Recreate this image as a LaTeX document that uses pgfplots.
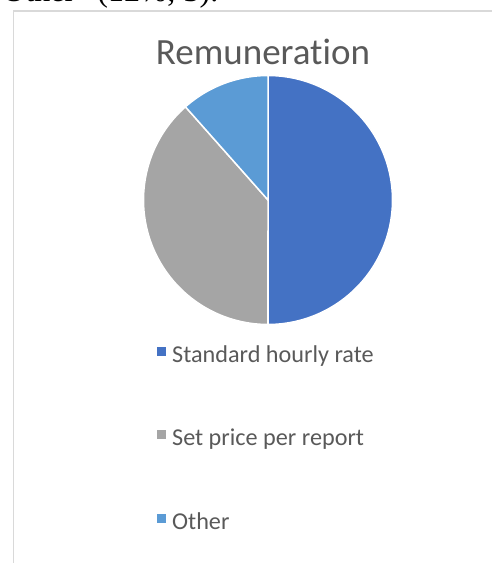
\documentclass[border=0pt]{standalone}
\usepackage{pgfplots}
\pgfplotsset{compat=1.18}
\usepackage{pgfplotstable}
\usepackage{fontspec}
\setmainfont{Carlito}[Ligatures={NoCommon}]
\newfontfamily\timesf{Liberation Serif}
\definecolor{cBlue}{HTML}{4472C4}
\definecolor{cGray}{HTML}{A5A5A5}
\definecolor{cLight}{HTML}{5B9BD5}
\definecolor{txt}{HTML}{595959}
\definecolor{frm}{HTML}{D9D9D9}
\pgfplotstableread{
label count
Standard 13
Setprice 10
Other 3
}\piedata
\begin{document}
\begin{tikzpicture}[x=1pt,y=1pt]
\useasboundingbox (0,0) rectangle (491,563);
\begin{scope}
\clip (0,0) rectangle (491,563);
\node[anchor=base west, inner sep=0, font=\timesf\fontsize{32}{34}\selectfont] at (-12,561) {“Other” (12\%; 3).};
\end{scope}
\draw[frm, line width=1.5] (13.5,-2) -- (13.5,552) -- (495,552);
\node[anchor=base, text=txt, font=\fontsize{37}{42}\selectfont, inner sep=0] at (263,498) {Remuneration};
\pgfplotstablegetelem{0}{count}\of\piedata \let\va\pgfplotsretval
\pgfplotstablegetelem{1}{count}\of\piedata \let\vb\pgfplotsretval
\pgfplotstablegetelem{2}{count}\of\piedata \let\vc\pgfplotsretval
\pgfmathsetmacro{\total}{\va+\vb+\vc}
\pgfmathsetmacro{\aA}{90}
\pgfmathsetmacro{\aB}{90-360*\va/\total}
\pgfmathsetmacro{\aC}{\aB-360*\vb/\total}
\pgfmathsetmacro{\aD}{\aC-360*\vc/\total}
\begin{axis}[at={(143.5pt,238.5pt)}, anchor=south west, scale only axis,
  width=249pt, height=249pt, xmin=-1, xmax=1, ymin=-1, ymax=1,
  hide axis, clip=false,
  legend cell align=left,
  legend style={draw=none, fill=none, at={(0.054,-0.075)}, anchor=north west,
    font=\fontsize{24.2}{28}\selectfont, text=txt, row sep=61.5pt, inner sep=0pt},
  legend image code/.code={\fill[#1, draw=none] (0pt,-1pt) rectangle (9pt,8pt); \path[draw=none, fill=none] (13pt,3pt) -- (13pt,4pt);}]
\addplot[fill=cBlue, draw=white, line width=1.5pt, domain=\aB:\aA, samples=120, variable=\t] ({cos(t)},{sin(t)}) -- (axis cs:0,0) -- cycle;
\addlegendentry{Standard hourly rate}
\addplot[fill=cGray, draw=white, line width=1.5pt, domain=\aC:\aB, samples=120, variable=\t] ({cos(t)},{sin(t)}) -- (axis cs:0,0) -- cycle;
\addlegendentry{Set price per report}
\addplot[fill=cLight, draw=white, line width=1.5pt, domain=\aD:\aC, samples=60, variable=\t] ({cos(t)},{sin(t)}) -- (axis cs:0,0) -- cycle;
\addlegendentry{Other}
\end{axis}
\end{tikzpicture}
\end{document}
